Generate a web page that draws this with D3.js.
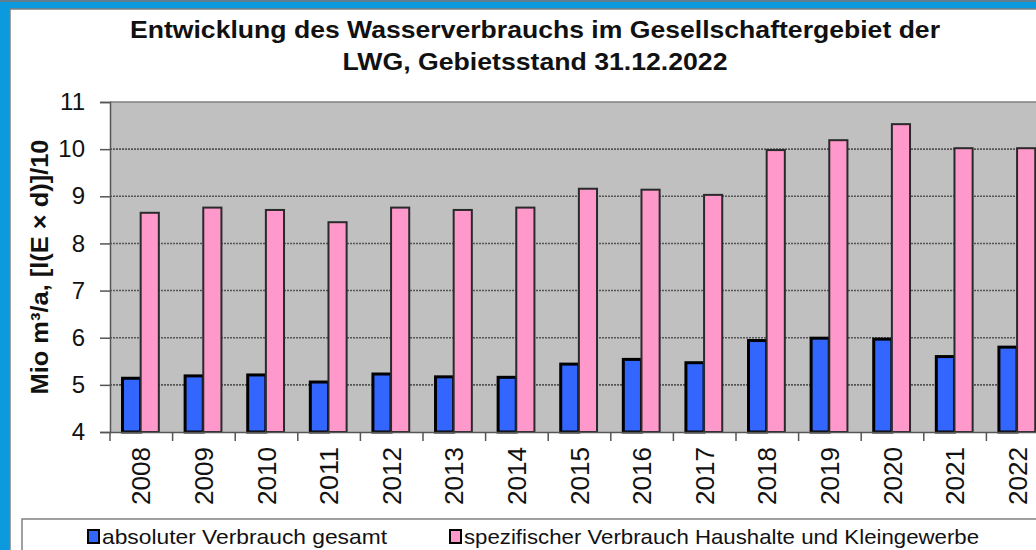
<!DOCTYPE html>
<html>
<head>
<meta charset="utf-8">
<script src="https://cdn.jsdelivr.net/npm/d3@7"></script>
<style>
  body { margin: 0; background: #fff; }
  text { font-family: "Liberation Sans", Arial, sans-serif; fill: #111; }
</style>
</head>
<body>
<script>
// data
var years = ["2008","2009","2010","2011","2012","2013","2014","2015","2016","2017","2018","2019","2020","2021","2022"];
var absolut = [5.14, 5.19, 5.21, 5.06, 5.23, 5.17, 5.16, 5.44, 5.54, 5.47, 5.94, 5.99, 5.97, 5.60, 5.80];
var spezifisch = [8.65, 8.76, 8.71, 8.45, 8.76, 8.71, 8.76, 9.16, 9.14, 9.03, 9.98, 10.19, 10.53, 10.02, 10.02];
var seriesNames = ["absoluter Verbrauch gesamt", "spezifischer Verbrauch Haushalte und Kleingewerbe"];
var seriesColors = ["#3366ff", "#ff99cc"];
var yTicks = [4, 5, 6, 7, 8, 9, 10, 11];

var W = 1036, H = 550;
var svg = d3.select("body").append("svg")
  .attr("width", W)
  .attr("height", H);

// outer frame
svg.append("rect").attr("x", 0).attr("y", 0).attr("width", W).attr("height", H).attr("fill", "#0c9ade");
svg.append("line").attr("x1", 0).attr("x2", W).attr("y1", 1).attr("y2", 1).attr("stroke", "#777").attr("stroke-width", 1.5);
svg.append("rect").attr("x", 10).attr("y", 9).attr("width", W + 20).attr("height", H + 20)
  .attr("fill", "#fff").attr("stroke", "#808080").attr("stroke-width", 1.5);

// title
var title = svg.append("text")
  .attr("text-anchor", "middle")
  .style("font-size", "24px")
  .style("font-weight", "bold");
title.append("tspan").attr("x", 535).attr("y", 38)
  .attr("textLength", 810).attr("lengthAdjust", "spacingAndGlyphs")
  .text("Entwicklung des Wasserverbrauchs im Gesellschaftergebiet der");
title.append("tspan").attr("x", 535).attr("y", 70)
  .attr("textLength", 385).attr("lengthAdjust", "spacingAndGlyphs")
  .text("LWG,  Gebietsstand 31.12.2022");

// scales
var x0 = d3.scaleBand().domain(years).range([110, 1049]).paddingInner(0).paddingOuter(0);
var bw = x0.bandwidth();
var x1 = d3.scaleBand().domain([0, 1]).range([0.2 * bw, 0.78 * bw]);
var y = d3.scaleLinear().domain([4, 11]).range([432, 102]);

// plot background
svg.append("rect")
  .attr("x", 110).attr("y", y(11))
  .attr("width", 1049 - 110).attr("height", y(4) - y(11))
  .attr("fill", "#c0c0c0");
svg.append("line").attr("x1", 110).attr("x2", 1049).attr("y1", y(11)).attr("y2", y(11))
  .attr("stroke", "#808080").attr("stroke-width", 1.5);

// gridlines
svg.append("g").selectAll("line")
  .data(yTicks.slice(1, -1))
  .enter().append("line")
  .attr("x1", 110).attr("x2", 1049)
  .attr("y1", function(d) { return y(d); })
  .attr("y2", function(d) { return y(d); })
  .attr("stroke", "#555")
  .attr("stroke-width", 1.6)
  .attr("stroke-dasharray", "2,1");

// bars
var rows = years.map(function(yr, i) { return { year: yr, vals: [absolut[i], spezifisch[i]] }; });
var groups = svg.append("g").selectAll("g")
  .data(rows)
  .enter().append("g")
  .attr("transform", function(d) { return "translate(" + x0(d.year) + ",0)"; });
groups.selectAll("rect")
  .data(function(d) { return d.vals.map(function(v, k) { return { k: k, v: v }; }); })
  .enter().append("rect")
  .attr("x", function(d) { return x1(d.k); })
  .attr("width", x1.bandwidth())
  .attr("y", function(d) { return y(d.v); })
  .attr("height", function(d) { return y(4) - y(d.v); })
  .attr("fill", function(d) { return seriesColors[d.k]; })
  .attr("stroke", function(d) { return d.k === 0 ? "#000" : "#2a2a2a"; })
  .attr("stroke-width", function(d) { return d.k === 0 ? 3 : 2; });

// y axis
var yAxis = svg.append("g")
  .attr("transform", "translate(110,0)")
  .call(d3.axisLeft(y).tickValues(yTicks).tickSize(10).tickPadding(15).tickFormat(d3.format("d")));
yAxis.select(".domain").attr("stroke", "#555").attr("stroke-width", 1.5);
yAxis.selectAll(".tick line").attr("stroke", "#555").attr("stroke-width", 1.5);
yAxis.selectAll("text").style("font-size", "24px").attr("fill", "#111");

// x axis
var xAxis = svg.append("g")
  .attr("transform", "translate(0,432)")
  .call(d3.axisBottom(x0).tickSize(0).tickFormat(""));
xAxis.select(".domain").attr("stroke", "#555").attr("stroke-width", 1.5);
svg.append("g").selectAll("line")
  .data(years.concat(["end"]))
  .enter().append("line")
  .attr("x1", function(d, i) { return 110 + i * bw; })
  .attr("x2", function(d, i) { return 110 + i * bw; })
  .attr("y1", 432).attr("y2", 441)
  .attr("stroke", "#555").attr("stroke-width", 1.5);
svg.append("g").selectAll("text")
  .data(years)
  .enter().append("text")
  .attr("transform", function(d) { return "translate(" + (x0(d) + bw / 2 + 9) + ",447) rotate(-90)"; })
  .attr("text-anchor", "end")
  .attr("textLength", 58)
  .attr("lengthAdjust", "spacingAndGlyphs")
  .style("font-size", "25px")
  .text(function(d) { return d; });

// y axis title
svg.append("text")
  .attr("transform", "translate(48,267) rotate(-90)")
  .attr("text-anchor", "middle")
  .attr("textLength", 255)
  .attr("lengthAdjust", "spacingAndGlyphs")
  .style("font-size", "24px")
  .style("font-weight", "bold")
  .text("Mio m³/a, [l(E × d)]/10");

// legend
svg.append("rect").attr("x", 22).attr("y", 519).attr("width", 1100).attr("height", 60)
  .attr("fill", "#fff").attr("stroke", "#808080").attr("stroke-width", 1.5);
var legendX = [88, 450];
var legendLen = [285, 515];
var leg = svg.append("g").selectAll("g")
  .data(seriesNames)
  .enter().append("g")
  .attr("transform", function(d, i) { return "translate(" + legendX[i] + ",0)"; });
leg.append("rect")
  .attr("x", 0).attr("y", 530).attr("width", 11).attr("height", 13)
  .attr("fill", function(d, i) { return seriesColors[i]; })
  .attr("stroke", "#000").attr("stroke-width", 2);
leg.append("text")
  .attr("x", 14).attr("y", 544)
  .attr("textLength", function(d, i) { return legendLen[i]; })
  .attr("lengthAdjust", "spacingAndGlyphs")
  .style("font-size", "21px")
  .attr("fill", "#222")
  .text(function(d) { return d; });
</script>
</body>
</html>
